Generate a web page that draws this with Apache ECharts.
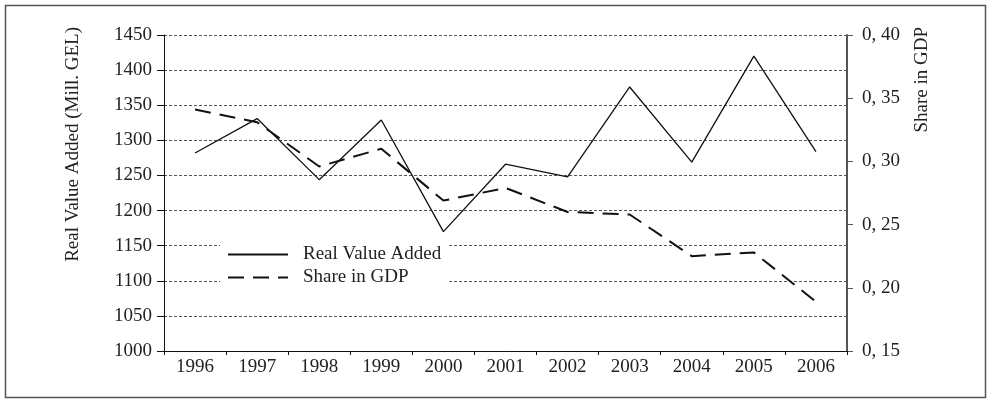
<!DOCTYPE html>
<html>
<head>
<meta charset="utf-8">
<script src="https://cdn.jsdelivr.net/npm/echarts@6/dist/echarts.min.js"></script>
<style>
  html, body { margin: 0; padding: 0; background: #fff; }
  #chart { width: 988px; height: 400px; }
</style>
</head>
<body>
<div id="chart"></div>
<script>
const years = ['1996', '1997', '1998', '1999', '2000', '2001', '2002', '2003', '2004', '2005', '2006'];
const realValueAdded = [1282, 1331, 1244, 1329, 1170, 1266, 1248, 1376, 1269, 1420, 1284];
const shareInGdp = [0.341, 0.331, 0.296, 0.310, 0.269, 0.279, 0.260, 0.258, 0.225, 0.228, 0.189];

const leftTicks = { min: 1000, max: 1450, interval: 50 };
const rightTicks = { min: 0.15, max: 0.40, interval: 0.05 };

const serif = "'Liberation Serif', 'DejaVu Serif', serif";
const ink = '#222';

const chart = echarts.init(document.getElementById('chart'));

chart.setOption({
  backgroundColor: '#fff',
  animation: false,
  textStyle: { fontFamily: serif },
  grid: { left: 164, right: 141, top: 35, bottom: 49 },
  legend: {
    orient: 'vertical',
    left: 220,
    top: 236,
    padding: [9, 8, 12, 7],
    backgroundColor: '#fff',
    itemWidth: 60,
    itemHeight: 14,
    itemGap: 4,
    itemStyle: { opacity: 0 },
    textStyle: { fontFamily: serif, fontSize: 19, color: ink, padding: [0, 0, 0, 10] },
    data: ['Real Value Added', 'Share in GDP']
  },
  xAxis: {
    type: 'category',
    data: years,
    boundaryGap: true,
    axisLine: { lineStyle: { color: '#111', width: 1 } },
    axisTick: { show: true, length: 4, lineStyle: { color: '#111' } },
    axisLabel: { color: ink, fontSize: 19, fontFamily: serif, margin: 7 },
    splitLine: { show: false }
  },
  yAxis: [
    {
      type: 'value',
      min: leftTicks.min,
      max: leftTicks.max,
      interval: leftTicks.interval,
      axisLine: { show: true, lineStyle: { color: '#111', width: 1 } },
      axisTick: { show: true, length: 7, lineStyle: { color: '#111' } },
      axisLabel: { color: ink, fontSize: 19, fontFamily: serif, margin: 12, formatter: (v) => String(v) },
      splitLine: { show: true, lineStyle: { color: '#555', type: [3, 2], width: 1 } }
    },
    {
      type: 'value',
      position: 'right',
      min: rightTicks.min,
      max: rightTicks.max,
      interval: rightTicks.interval,
      axisLine: { show: true, lineStyle: { color: '#555', width: 2 } },
      axisTick: { show: true, length: 6, lineStyle: { color: '#555', width: 1 } },
      axisLabel: {
        color: ink, fontSize: 19, fontFamily: serif, margin: 15,
        formatter: (v) => v.toFixed(2).replace('.', ', ')
      },
      splitLine: { show: false }
    }
  ],
  series: [
    {
      name: 'Real Value Added',
      type: 'line',
      yAxisIndex: 0,
      data: realValueAdded,
      symbol: 'none',
      lineStyle: { color: '#111', width: 1.3, type: 'solid' },
      itemStyle: { color: '#111' },
      z: 3
    },
    {
      name: 'Share in GDP',
      type: 'line',
      yAxisIndex: 1,
      data: shareInGdp,
      symbol: 'none',
      lineStyle: { color: '#111', width: 2, type: [16, 9] },
      itemStyle: { color: '#111' },
      z: 2
    }
  ],
  graphic: [
    {
      type: 'rect',
      silent: true,
      shape: { x: 5.5, y: 5.5, width: 980, height: 392 },
      style: { fill: 'none', stroke: '#555', lineWidth: 1.5 }
    },
    {
      type: 'text',
      x: 73,
      y: 27,
      rotation: Math.PI / 2,
      style: {
        text: 'Real Value Added (Mill. GEL)',
        fill: ink,
        font: '19px ' + serif,
        textAlign: 'right',
        textVerticalAlign: 'middle'
      }
    },
    {
      type: 'text',
      x: 922,
      y: 27,
      rotation: Math.PI / 2,
      style: {
        text: 'Share in GDP',
        fill: ink,
        font: '19px ' + serif,
        textAlign: 'right',
        textVerticalAlign: 'middle'
      }
    }
  ]
});
</script>
</body>
</html>
